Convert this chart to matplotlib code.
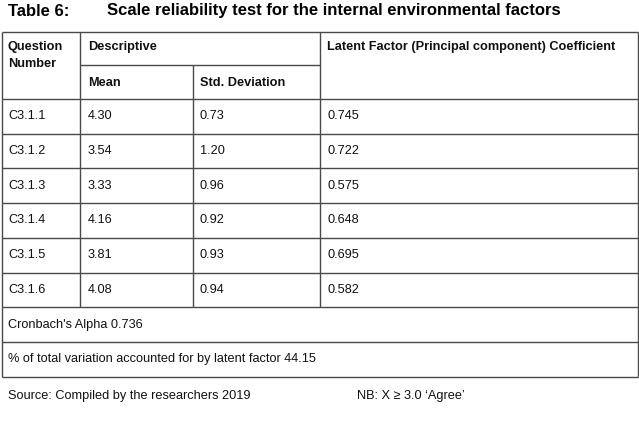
import matplotlib
matplotlib.use("Agg")
import matplotlib.pyplot as plt

title_label = "Table 6:"
title_text = "Scale reliability test for the internal environmental factors"
questions = ["C3.1.1", "C3.1.2", "C3.1.3", "C3.1.4", "C3.1.5", "C3.1.6"]
means = [4.30, 3.54, 3.33, 4.16, 3.81, 4.08]
std_devs = [0.73, 1.20, 0.96, 0.92, 0.93, 0.94]
coefficients = [0.745, 0.722, 0.575, 0.648, 0.695, 0.582]
cronbach_alpha = 0.736
variation_pct = 44.15
source_note = "Source: Compiled by the researchers 2019"
nb_note = "NB: X \u2265 3.0 \u2018Agree\u2019"

W, H = 639, 422
fig = plt.figure(figsize=(W / 100, H / 100), dpi=100)
ax = fig.add_axes([0, 0, 1, 1])
ax.set_xlim(0, W)
ax.set_ylim(H, 0)
ax.axis("off")

FONT = ["Liberation Sans", "DejaVu Sans"]
body = dict(fontsize=9.2, family=FONT, color="#111111", va="center", ha="left")
bold = dict(fontsize=9.2, family=FONT, color="#111111", va="center", ha="left", fontweight="bold")
lc = "#4a4a4a"
lw = 1.0

# layout
x_left, x_c1, x_c2, x_c3, x_right = 1.5, 80, 193, 320, 637.5
y_top, y_sub, y_head = 32, 65, 99
row_h = 34.7
n = len(questions)
row_lines = [y_head + row_h * i for i in range(n + 1)]
y_data_end = row_lines[-1]
y_cron = y_data_end + row_h
y_pct = y_cron + row_h

def hline(y, x0=x_left, x1=x_right):
    ax.plot([x0, x1], [y, y], color=lc, lw=lw, solid_capstyle="butt")

def vline(x, y0, y1):
    ax.plot([x, x], [y0, y1], color=lc, lw=lw, solid_capstyle="butt")

hline(y_top)
hline(y_sub, x_c1, x_c3)
for y in row_lines:
    hline(y)
hline(y_cron)
hline(y_pct)
vline(x_left, y_top, y_pct)
vline(x_right, y_top, y_pct)
vline(x_c1, y_top, y_data_end)
vline(x_c2, y_sub, y_data_end)
vline(x_c3, y_top, y_data_end)

# title
ax.text(8, 11, title_label, fontsize=12.0, family=FONT, fontweight="bold", va="center", ha="left")
ax.text(107, 11, title_text, fontsize=12.0, family=FONT, fontweight="bold", va="center", ha="left")

# headers
ax.text(8, 47, "Question", **bold)
ax.text(8, 64, "Number", **bold)
ax.text(88, 47, "Descriptive", **bold)
ax.text(88, 83, "Mean", **bold)
ax.text(200, 83, "Std. Deviation", **bold)
ax.text(327, 47, "Latent Factor (Principal component) Coefficient", **bold)

for i in range(n):
    yc = (row_lines[i] + row_lines[i + 1]) / 2
    ax.text(8, yc, questions[i], **body)
    ax.text(88, yc, f"{means[i]:.2f}", **body)
    ax.text(200, yc, f"{std_devs[i]:.2f}", **body)
    ax.text(327, yc, f"{coefficients[i]:.3f}", **body)

ax.text(8, (y_data_end + y_cron) / 2, f"Cronbach's Alpha {cronbach_alpha:.3f}", **body)
ax.text(8, (y_cron + y_pct) / 2, f"% of total variation accounted for by latent factor {variation_pct:.2f}", **body)

ax.text(8, 396, source_note, **body)
ax.text(357, 396, nb_note, **body)

fig.savefig("out.png", dpi=100)
